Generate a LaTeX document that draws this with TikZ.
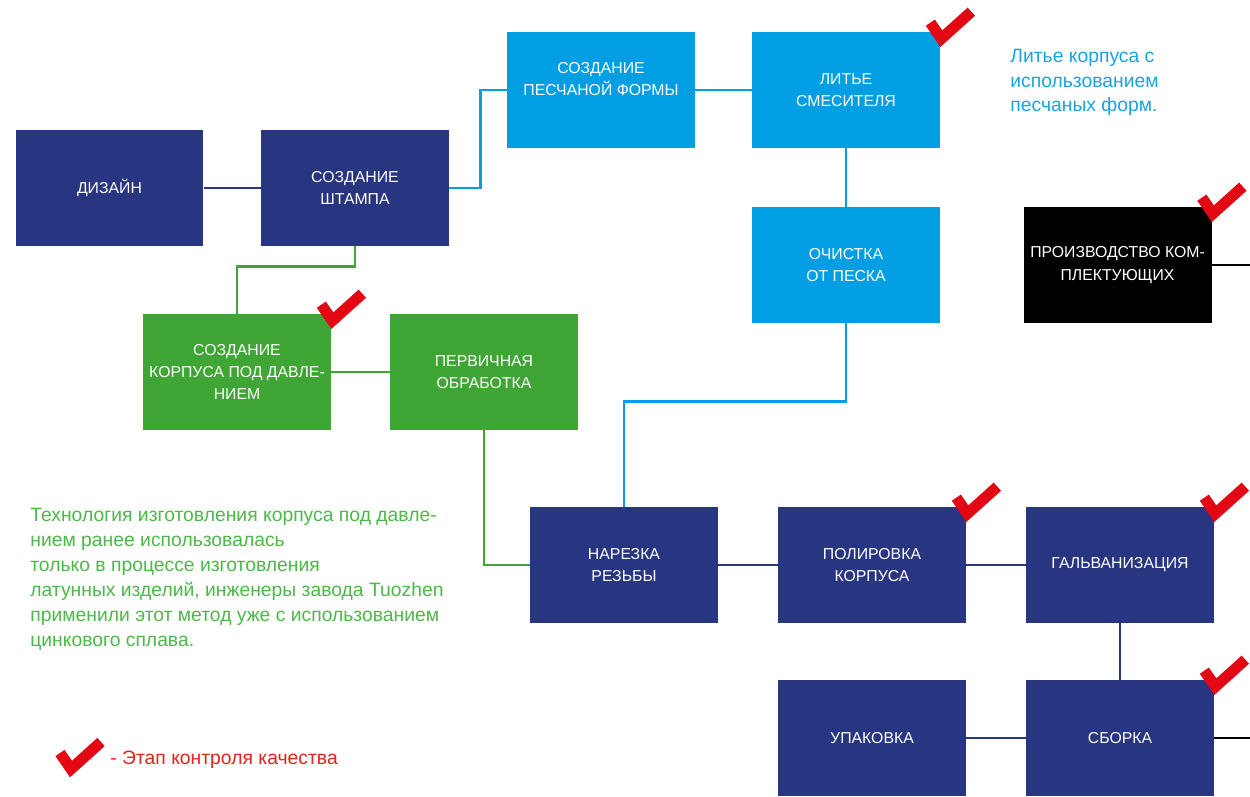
\documentclass[tikz,border=0pt]{standalone}
\usepackage{fontspec}
\setmainfont{Liberation Sans}
\definecolor{navy}{RGB}{40,53,128}
\definecolor{skyblue}{RGB}{0,159,227}
\definecolor{leafgreen}{RGB}{63,165,53}
\definecolor{checkred}{RGB}{227,6,19}
\definecolor{notegreen}{RGB}{76,184,72}
\definecolor{noteblue}{RGB}{26,163,224}
\definecolor{notered}{RGB}{226,35,26}
\newcommand{\qcheck}[1]{\draw[qcmark,shift={(#1)}] (-10,-9) -- (1,7) -- (31,-20);}

\begin{document}
\begin{tikzpicture}[x=0.02cm,y=-0.02cm,
  stage/.style={minimum width=3.76cm,minimum height=2.32cm,inner sep=0pt,align=center,
    text=white,font=\fontsize{9}{12.7}\selectfont},
  link/.style={line width=1.6pt},
  qcmark/.style={draw=checkred,line width=0.22cm,line join=miter},
  note/.style={align=left,inner sep=0pt}]
  \useasboundingbox (0,0) rectangle (1250,796);

  % Stages
  \node[stage,fill=navy] (design) at (109.5,188) {ДИЗАЙН};
  \node[stage,fill=navy] (stamp) at (355,188) {СОЗДАНИЕ\\ШТАМПА};
  \node[stage,fill=skyblue] (sand) at (601,90) {СОЗДАНИЕ\\ПЕСЧАНОЙ ФОРМЫ\\ \mbox{}};
  \node[stage,fill=skyblue] (cast) at (846,90) {ЛИТЬЕ\\СМЕСИТЕЛЯ};
  \node[stage,fill=skyblue] (clean) at (846,265) {ОЧИСТКА\\ОТ ПЕСКА};
  \node[stage,fill=black] (parts) at (1117.5,265) {ПРОИЗВОДСТВО КОМ-\\ПЛЕКТУЮЩИХ};
  \node[stage,fill=leafgreen] (press) at (237,372) {СОЗДАНИЕ\\КОРПУСА ПОД ДАВЛЕ-\\НИЕМ};
  \node[stage,fill=leafgreen] (rough) at (484,372) {ПЕРВИЧНАЯ\\ОБРАБОТКА};
  \node[stage,fill=navy] (thread) at (624,565) {НАРЕЗКА\\РЕЗЬБЫ};
  \node[stage,fill=navy] (polish) at (872,565) {ПОЛИРОВКА\\КОРПУСА};
  \node[stage,fill=navy] (plate) at (1120,565) {ГАЛЬВАНИЗАЦИЯ};
  \node[stage,fill=navy] (pack) at (872,738) {УПАКОВКА};
  \node[stage,fill=navy] (assembly) at (1120,738) {СБОРКА};
  \coordinate (outparts) at (1250,265);
  \coordinate (outassembly) at (1250,738);

  % Connectors
  \draw[link,navy] (design) -- (stamp);
  \draw[link,skyblue] (stamp.east) -- ++(31,0) |- (sand.west);
  \draw[link,skyblue] (sand) -- (cast);
  \draw[link,skyblue] (cast) -- (clean);
  \draw[link,skyblue] (clean.south) -- ++(0,78) -| (thread.north);
  \draw[link,leafgreen] (stamp.south) -- ++(0,20) -| (press.north);
  \draw[link,leafgreen] (press) -- (rough);
  \draw[link,leafgreen] (rough.south) |- (thread.west);
  \draw[link,navy] (thread) -- (polish);
  \draw[link,navy] (polish) -- (plate);
  \draw[link,navy] (plate) -- (assembly);
  \draw[link,navy] (assembly) -- (pack);
  \draw[link,black] (parts) -- (outparts);
  \draw[link,black] (assembly) -- (outassembly);

  % Quality checks
  \qcheck{cast.north east}
  \qcheck{parts.north east}
  \qcheck{press.north east}
  \qcheck{polish.north east}
  \qcheck{plate.north east}
  \qcheck{assembly.north east}

  % Notes
  \node[note,anchor=north west,text=noteblue,font=\fontsize{11}{13.9}\selectfont] (sandnote) at (1010,49)
    {Литье корпуса с\\использованием\\песчаных форм.};
  \node[note,anchor=north west,text=notegreen,font=\fontsize{11}{14.2}\selectfont] (pressnote) at (30,508)
    {Технология изготовления корпуса под давле-\\нием ранее использовалась\\только в процессе изготовления\\латунных изделий, инженеры завода Tuozhen\\применили этот метод уже с использованием\\цинкового сплава.};

  % Legend
  \coordinate (legcheck) at (70,762);
  \qcheck{legcheck}
  \node[note,anchor=west,text=notered,font=\fontsize{11}{13}\selectfont] (legtext) at (110,760) {- Этап контроля качества};
\end{tikzpicture}
\end{document}
